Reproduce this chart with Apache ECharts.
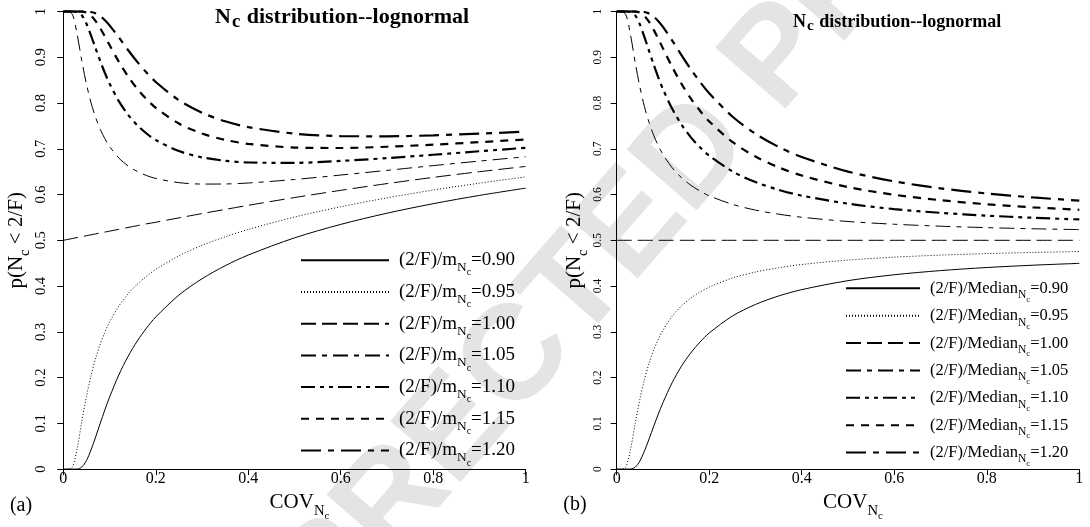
<!DOCTYPE html>
<html>
<head>
<meta charset="utf-8">
<script src="https://cdn.jsdelivr.net/npm/echarts@6/dist/echarts.min.js"></script>
<style>
  html, body { margin: 0; padding: 0; background: #fff; }
  #chart { width: 1090px; height: 527px; }
</style>
</head>
<body>
<div id="chart"></div>
<script>
// Coefficient of variation of Nc at which each curve is sampled
const cov = [0, 0.01, 0.02, 0.03, 0.04, 0.05, 0.06, 0.07, 0.08, 0.09, 0.1, 0.12, 0.14, 0.16, 0.18, 0.2, 0.25, 0.3, 0.35, 0.4, 0.5, 0.6, 0.7, 0.8, 0.9, 1.0];

// Ratio of 2/F to the mean (panel a) or to the median (panel b)
const ratios = ['0.90', '0.95', '1.00', '1.05', '1.10', '1.15', '1.20'];

// Panel (a): p(Nc < 2/F) for (2/F)/m = ratio
const meanP090 = [0, 0, 0, 0.0002, 0.0045, 0.0186, 0.042, 0.0705, 0.1004, 0.1297, 0.1571, 0.2057, 0.2462, 0.2799, 0.3083, 0.3325, 0.3803, 0.416, 0.4444, 0.4678, 0.5053, 0.5348, 0.5592, 0.58, 0.5981, 0.614];
const meanP095 = [0, 0, 0.0053, 0.0451, 0.1034, 0.1583, 0.2046, 0.2424, 0.2735, 0.2994, 0.3213, 0.356, 0.3827, 0.404, 0.4216, 0.4364, 0.466, 0.4889, 0.5076, 0.5237, 0.5508, 0.5733, 0.5927, 0.6098, 0.6249, 0.6386];
const meanP100 = [0.5, 0.502, 0.504, 0.506, 0.508, 0.51, 0.512, 0.514, 0.516, 0.518, 0.52, 0.524, 0.528, 0.532, 0.536, 0.5394, 0.549, 0.5584, 0.5675, 0.5764, 0.5934, 0.6092, 0.6239, 0.6375, 0.6499, 0.6614];
const meanP105 = [1, 1, 0.9929, 0.9496, 0.8925, 0.8417, 0.8006, 0.7682, 0.7424, 0.7218, 0.7051, 0.68, 0.6627, 0.6504, 0.6415, 0.6351, 0.626, 0.6229, 0.6231, 0.6252, 0.6329, 0.6426, 0.6528, 0.6632, 0.6731, 0.6826];
const meanP110 = [1, 1, 1, 0.9993, 0.9919, 0.9733, 0.9474, 0.919, 0.8913, 0.8656, 0.8426, 0.8042, 0.7745, 0.7514, 0.7334, 0.7191, 0.695, 0.6813, 0.6738, 0.67, 0.6693, 0.6734, 0.6796, 0.6869, 0.6946, 0.7022];
const meanP115 = [1, 1, 1, 1, 0.9998, 0.9976, 0.9909, 0.979, 0.9633, 0.9453, 0.9266, 0.8904, 0.8583, 0.8311, 0.8084, 0.7895, 0.7551, 0.7333, 0.7194, 0.7107, 0.7027, 0.7017, 0.7044, 0.709, 0.7145, 0.7205];
const meanP120 = [1, 1, 1, 1, 1, 0.9999, 0.9989, 0.9959, 0.9899, 0.981, 0.9698, 0.9435, 0.9159, 0.8899, 0.8666, 0.846, 0.8061, 0.7787, 0.76, 0.7473, 0.7331, 0.7278, 0.7272, 0.7294, 0.733, 0.7374];

// Panel (b): p(Nc < 2/F) for (2/F)/Median = ratio
const medP090 = [0, 0, 0, 0.0002, 0.0042, 0.0175, 0.0394, 0.0659, 0.0936, 0.1204, 0.1454, 0.1891, 0.2248, 0.2538, 0.2776, 0.2974, 0.3344, 0.3598, 0.3783, 0.3922, 0.4118, 0.4247, 0.4338, 0.4405, 0.4456, 0.4496];
const medP095 = [0, 0, 0.0052, 0.0437, 0.0999, 0.1524, 0.1961, 0.2316, 0.2604, 0.284, 0.3035, 0.334, 0.3564, 0.3735, 0.387, 0.3978, 0.4175, 0.4307, 0.44, 0.4471, 0.4568, 0.4632, 0.4676, 0.4709, 0.4734, 0.4754];
const medP100 = [0.5, 0.5, 0.5, 0.5, 0.5, 0.5, 0.5, 0.5, 0.5, 0.5, 0.5, 0.5, 0.5, 0.5, 0.5, 0.5, 0.5, 0.5, 0.5, 0.5, 0.5, 0.5, 0.5, 0.5, 0.5, 0.5];
const medP105 = [1, 1, 0.9926, 0.9481, 0.8888, 0.8356, 0.7921, 0.7574, 0.7294, 0.7065, 0.6876, 0.6584, 0.6369, 0.6205, 0.6077, 0.5973, 0.5786, 0.566, 0.5571, 0.5504, 0.5411, 0.5351, 0.5308, 0.5277, 0.5252, 0.5234];
const medP110 = [1, 1, 1, 0.9993, 0.9914, 0.9718, 0.9441, 0.9136, 0.8836, 0.8557, 0.8303, 0.7873, 0.753, 0.7255, 0.7032, 0.6849, 0.6507, 0.6273, 0.6104, 0.5977, 0.58, 0.5682, 0.56, 0.5539, 0.5492, 0.5456];
const medP115 = [1, 1, 1, 1, 0.9998, 0.9974, 0.9901, 0.9772, 0.9599, 0.9401, 0.9194, 0.8788, 0.8421, 0.8103, 0.7831, 0.7598, 0.7149, 0.683, 0.6595, 0.6416, 0.6163, 0.5995, 0.5876, 0.5788, 0.572, 0.5667];
const medP120 = [1, 1, 1, 1, 1, 0.9999, 0.9988, 0.9954, 0.9888, 0.9788, 0.9662, 0.9363, 0.9047, 0.8742, 0.8464, 0.8214, 0.7705, 0.7327, 0.7041, 0.682, 0.6502, 0.6288, 0.6136, 0.6023, 0.5936, 0.5867];

// Tick labels
const xTickLabels = ['0', '0.2', '0.4', '0.6', '0.8', '1'];
const yTickLabels = ['0', '0.1', '0.2', '0.3', '0.4', '0.5', '0.6', '0.7', '0.8', '0.9', '1'];

const meanCurves = [meanP090, meanP095, meanP100, meanP105, meanP110, meanP115, meanP120];
const medCurves = [medP090, medP095, medP100, medP105, medP110, medP115, medP120];

// Line type for each ratio (same order as ratios)
const lineTypes = [
  { width: 1, type: 'solid' },
  { width: 1, type: [1, 2] },
  { width: 1, type: [15, 6] },
  { width: 1, type: [15, 6, 5, 6] },
  { width: 2.2, type: [14, 5, 4, 5, 4, 5] },
  { width: 2.2, type: [8, 7] },
  { width: 2.2, type: [20, 7, 6, 7] }
];

const FONT = '"Liberation Serif", "Times New Roman", Times, serif';

// Rich-text styles: main text, subscript and second-level subscript.
function richSet(F, centred, leftPad) {
  const a = centred ? 0.42 * F : 0;
  const base = { fontFamily: FONT, color: '#000', verticalAlign: 'top' };
  return {
    p: Object.assign({}, base, { fontSize: F, lineHeight: F, padding: [a, 0, 0, leftPad || 0] }),
    m: Object.assign({}, base, { fontSize: F, lineHeight: F, padding: [a, 0, 0, 0] }),
    s: Object.assign({}, base, { fontSize: 0.7 * F, lineHeight: 0.7 * F, padding: [a + 0.55 * F, 0, 0, 0] }),
    ss: Object.assign({}, base, { fontSize: 0.52 * F, lineHeight: 0.52 * F, padding: [a + 0.9 * F, 0, 0, 0] })
  };
}

const pairs = ys => cov.map((c, i) => [c, ys[i]]);
const meanName = r => '(2/F)/m=' + r;
const medName = r => '(2/F)/Median=' + r;

function curveSeries(name, ys, k, axisIndex) {
  return {
    type: 'line', name, xAxisIndex: axisIndex, yAxisIndex: axisIndex,
    data: pairs(ys), symbol: 'none', smooth: 0.3,
    clip: false, silent: true, z: 3,
    itemStyle: { color: '#000' },
    lineStyle: { color: '#000', width: lineTypes[k].width, type: lineTypes[k].type, cap: 'butt' }
  };
}

const series = [];
ratios.forEach((r, k) => series.push(curveSeries(meanName(r), meanCurves[k], k, 0)));
ratios.forEach((r, k) => series.push(curveSeries(medName(r), medCurves[k], k, 1)));

function xAxisFor(gridIndex) {
  return {
    type: 'value', gridIndex, min: 0, max: 1, interval: 0.2,
    name: '{m|COV}{s|N}{ss|c}', nameLocation: 'middle', nameGap: 23,
    nameTextStyle: { rich: richSet(21, false), padding: [0, 0, 0, 10] },
    axisLine: { show: true, onZero: false, lineStyle: { color: '#000', width: 1 } },
    axisTick: { show: true, length: 6, lineStyle: { color: '#000', width: 1 } },
    axisLabel: {
      margin: 2, fontFamily: FONT, fontSize: 16, color: '#000',
      formatter: v => xTickLabels[Math.round(v / 0.2)]
    },
    splitLine: { show: false }
  };
}
function yAxisFor(gridIndex, labelSize, labelMargin, nameGap) {
  return {
    type: 'value', gridIndex, min: 0, max: 1, interval: 0.1,
    name: '{m|p(N}{s|c}{m| < 2/F)}', nameLocation: 'middle', nameGap,
    nameTextStyle: { rich: richSet(21, false) },
    axisLine: { show: true, onZero: false, lineStyle: { color: '#000', width: 1 } },
    axisTick: { show: true, length: 6, lineStyle: { color: '#000', width: 1 } },
    axisLabel: {
      rotate: 90, margin: labelMargin, fontFamily: FONT, fontSize: labelSize, color: '#000',
      formatter: v => yTickLabels[Math.round(v * 10)]
    },
    splitLine: { show: false }
  };
}

// Legend: line sample followed by the ratio label; the extra bottom padding
// keeps each sample line level with the middle of its label.
function legendFor(names, left, top, iconW, F, gap, bottomPad, word) {
  return {
    data: names, orient: 'vertical', left, top, padding: 0,
    itemWidth: iconW, itemHeight: 12, itemGap: gap, selectedMode: false,
    itemStyle: { opacity: 0, borderWidth: 0, color: 'rgba(0,0,0,0)' },
    textStyle: { fontFamily: FONT, color: '#000', padding: [0, 0, bottomPad, 0], rich: richSet(F, true, 5) },
    formatter: name => '{p|(2/F)/' + word + '}{s|N}{ss|c}{m|=' + name.split('=')[1] + '}'
  };
}

function titleFor(left, top, F) {
  const base = { fontFamily: FONT, color: '#000', fontWeight: 'bold', verticalAlign: 'top' };
  return {
    text: '{n|N}{c|c}{n| distribution--lognormal}', left, top, padding: 0,
    textStyle: {
      rich: {
        n: Object.assign({}, base, { fontSize: F, lineHeight: F }),
        c: Object.assign({}, base, { fontSize: 0.85 * F, lineHeight: 0.85 * F, padding: [0.3 * F, 1, 0, 1] })
      }
    }
  };
}

const chart = echarts.init(document.getElementById('chart'), null, { renderer: 'canvas' });
chart.setOption({
  animation: false,
  backgroundColor: '#fff',
  textStyle: { fontFamily: FONT, color: '#000' },
  title: [titleFor(215, 6, 22), titleFor(793, 13, 18)],
  grid: [
    { left: 63.3, top: 11.5, width: 462.4, height: 462.5, containLabel: false },
    { left: 616.7, top: 11.5, width: 462.6, height: 462.5, containLabel: false }
  ],
  xAxis: [xAxisFor(0), xAxisFor(1)],
  yAxis: [yAxisFor(0, 14.5, 15, 36), yAxisFor(1, 11.5, 13, 28)],
  legend: [
    legendFor(ratios.map(meanName), 300, 242.8, 88, 19, -3.38, 16, 'm'),
    legendFor(ratios.map(medName), 845, 273.1, 74, 16.5, -3.41, 14, 'Median')
  ],
  graphic: {
    elements: [
      {
        type: 'text', x: 552, y: 320, rotation: 49 * Math.PI / 180, z: -10, silent: true,
        style: {
          text: 'UNCORRECTED PROOF', fill: '#e4e4e4',
          font: 'bold 135px "Liberation Sans", Arial, sans-serif',
          align: 'center', verticalAlign: 'middle',
          textAlign: 'center', textVerticalAlign: 'middle'
        }
      },
      {
        type: 'text', x: 21, y: 506, silent: true,
        style: { text: '(a)', fill: '#000', font: '20px ' + FONT, align: 'center', verticalAlign: 'middle', textAlign: 'center', textVerticalAlign: 'middle' }
      },
      {
        type: 'text', x: 575, y: 505, silent: true,
        style: { text: '(b)', fill: '#000', font: '20px ' + FONT, align: 'center', verticalAlign: 'middle', textAlign: 'center', textVerticalAlign: 'middle' }
      }
    ]
  },
  series
});
</script>
</body>
</html>
